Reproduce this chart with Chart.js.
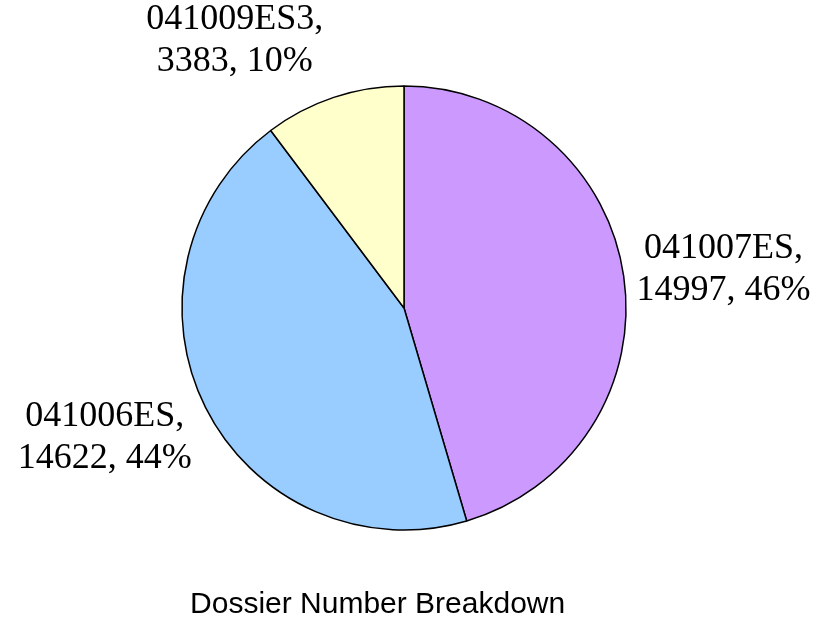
<!DOCTYPE html>
<html><head><meta charset="utf-8">
<script src="https://cdn.jsdelivr.net/npm/chart.js@4/dist/chart.umd.min.js"></script>
<style>html,body{margin:0;padding:0;background:#fff}#wrap{width:829px;height:618px}</style>
</head><body><div id="wrap"><canvas id="c" width="829" height="618"></canvas></div>
<script>
const categories = ['041007ES', '041006ES', '041009ES3'];
const values = [14997, 14622, 3383];
const percentLabels = ['46%', '44%', '10%'];
const sliceColors = ['#CC99FF', '#99CCFF', '#FFFFCC'];
const titleText = 'Dossier Number Breakdown';

const outsideLabels = {
  id: 'outsideLabels',
  afterDatasetsDraw(chart, args, opts) {
    const ctx = chart.ctx;
    const meta = chart.getDatasetMeta(0);
    ctx.save();
    ctx.font = opts.fontSize + 'px ' + opts.fontFamily;
    ctx.fillStyle = '#000';
    ctx.textAlign = 'center';
    ctx.textBaseline = 'middle';
    meta.data.forEach((arc, i) => {
      const p = arc.getProps(['x', 'y', 'startAngle', 'endAngle', 'outerRadius'], true);
      const mid = (p.startAngle + p.endAngle) / 2;
      const c = Math.cos(mid), s = Math.sin(mid);
      const lines = [chart.data.labels[i] + ',', chart.data.datasets[0].data[i] + ', ' + percentLabels[i]];
      const w = Math.max(...lines.map(l => ctx.measureText(l).width));
      const halfW = w / 2, halfH = lines.length * opts.lineHeight / 2;
      const ax = p.x + (p.outerRadius + opts.gap) * c;
      const ay = p.y + (p.outerRadius + opts.gap) * s;
      const cx = ax + Math.sign(c) * halfW * (1 + 0.08 * Math.abs(s));
      const cy = ay + s * halfH * 1.2 + 2;
      lines.forEach((l, k) => {
        ctx.fillText(l, cx, cy - halfH + opts.lineHeight * (k + 0.5));
      });
    });
    // chart title below the pie
    ctx.font = opts.titleSize + 'px ' + opts.titleFamily;
    ctx.textBaseline = 'alphabetic';
    ctx.fillText(opts.title, chart.width * opts.titleXFrac, chart.height - opts.titleBottom);
    ctx.restore();
  }
};

new Chart(document.getElementById('c'), {
  type: 'pie',
  data: {
    labels: categories,
    datasets: [{
      data: values,
      backgroundColor: sliceColors,
      borderColor: '#000',
      borderWidth: 1.5,
      hoverOffset: 0
    }]
  },
  options: {
    responsive: false,
    animation: false,
    events: [],
    radius: 222,
    layout: { padding: { top: 53, bottom: 55, left: 0, right: 21 } },
    plugins: {
      legend: { display: false },
      tooltip: { enabled: false },
      title: { display: false },
      outsideLabels: {
        fontSize: 36, fontFamily: "'Liberation Serif', 'Times New Roman', serif", lineHeight: 42, gap: 12,
        title: titleText, titleSize: 30, titleFamily: "'Liberation Sans', Arial, sans-serif",
        titleXFrac: 0.4555, titleBottom: 5
      }
    }
  },
  plugins: [outsideLabels]
});
</script>
</body></html>
